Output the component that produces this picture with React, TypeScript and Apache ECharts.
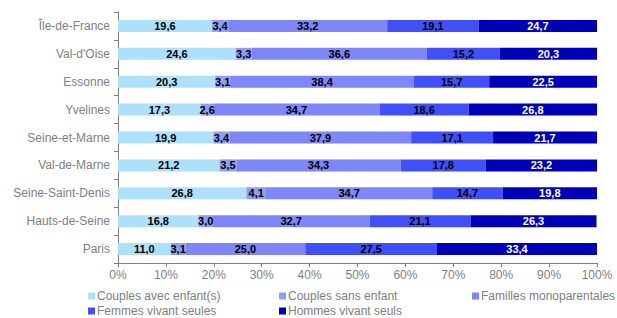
import React, { useEffect, useRef } from "react";
import * as echarts from "echarts";

const categories = [
  "Île-de-France",
  "Val-d'Oise",
  "Essonne",
  "Yvelines",
  "Seine-et-Marne",
  "Val-de-Marne",
  "Seine-Saint-Denis",
  "Hauts-de-Seine",
  "Paris",
];

const seriesNames = [
  "Couples avec enfant(s)",
  "Couples sans enfant",
  "Familles monoparentales",
  "Femmes vivant seules",
  "Hommes vivant seuls",
];

const couplesAvecEnfants = [19.6, 24.6, 20.3, 17.3, 19.9, 21.2, 26.8, 16.8, 11.0];
const couplesSansEnfant = [3.4, 3.3, 3.1, 2.6, 3.4, 3.5, 4.1, 3.0, 3.1];
const famillesMono = [33.2, 36.6, 38.4, 34.7, 37.9, 34.3, 34.7, 32.7, 25.0];
const femmesSeules = [19.1, 15.2, 15.7, 18.6, 17.1, 17.8, 14.7, 21.1, 27.5];
const hommesSeuls = [24.7, 20.3, 22.5, 26.8, 21.7, 23.2, 19.8, 26.3, 33.4];

const seriesValues = [couplesAvecEnfants, couplesSansEnfant, famillesMono, femmesSeules, hommesSeuls];
const colors = ["#aee0fb", "#8d9ef4", "#7e86f8", "#4050f8", "#0000b8"];
const labelColors = ["#000", "#000", "#000", "#000", "#fff"];

const FONT = "Liberation Sans, Arial, sans-serif";

export default function App() {
  const ref = useRef<HTMLDivElement>(null);
  useEffect(() => {
    const chart = echarts.init(ref.current!, null, { renderer: "svg" });
    const legendBase = {
      orient: "vertical",
      top: 289,
      height: 60,
      width: 180,
      padding: 0,
      itemWidth: 7,
      itemHeight: 7,
      itemGap: 1,
      icon: "rect",
      textStyle: { color: "#808080", fontSize: 12, lineHeight: 14, fontFamily: FONT, padding: [0, 0, 0, -3] },
    };
    chart.setOption({
      animation: false,
      grid: { left: 118, right: 20, top: 12, bottom: 55 },
      legend: [
        { ...legendBase, left: 88, data: [seriesNames[0], seriesNames[3]] },
        { ...legendBase, left: 279, data: [seriesNames[1], seriesNames[4]] },
        { ...legendBase, left: 472, data: [seriesNames[2]] },
      ],
      xAxis: {
        type: "value",
        min: 0,
        max: 100,
        interval: 10,
        splitLine: { show: false },
        axisLine: { show: true, lineStyle: { color: "#808080" } },
        axisTick: { show: true, length: 4, lineStyle: { color: "#808080" } },
        axisLabel: {
          formatter: "{value}%",
          color: "#808080",
          fontSize: 12,
          fontFamily: FONT,
          margin: 6,
        },
      },
      yAxis: {
        type: "category",
        data: categories,
        inverse: true,
        axisLine: { show: true, lineStyle: { color: "#808080" } },
        axisTick: { show: true, length: 4, lineStyle: { color: "#808080" } },
        axisLabel: { color: "#808080", fontSize: 12, fontFamily: FONT, margin: 8 },
      },
      series: seriesNames.map((name, i) => ({
        name,
        type: "bar",
        stack: "total",
        barWidth: 12,
        data: seriesValues[i],
        itemStyle: { color: colors[i] },
        label: {
          show: true,
          position: "inside",
          color: labelColors[i],
          fontSize: 11,
          fontWeight: "bold",
          fontFamily: FONT,
          formatter: (p: any) => Number(p.value).toFixed(1).replace(".", ","),
        },
      })),
    });
    return () => chart.dispose();
  }, []);
  return <div ref={ref} style={{ width: 617, height: 318, position: "absolute", left: 0, top: 0 }} />;
}
